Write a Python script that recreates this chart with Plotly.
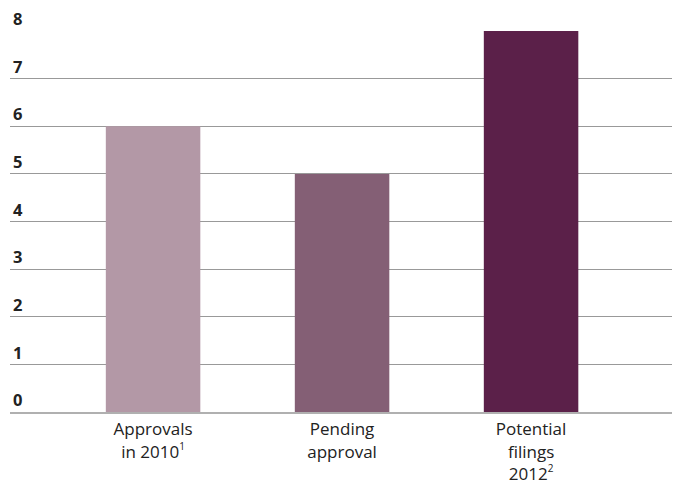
import plotly.graph_objects as go

categories = [
    "Approvals<br>in 2010<sup><span style='font-size:10px'>1</span></sup>",
    "Pending<br>approval",
    "Potential<br>filings<br>2012<sup><span style='font-size:10px'>2</span></sup>",
]
values = [6, 5, 8]
colors = ["#b398a6", "#845f75", "#5b2049"]
y_ticks = [0, 1, 2, 3, 4, 5, 6, 7, 8]

fig = go.Figure(go.Bar(x=categories, y=values, marker=dict(color=colors, line=dict(width=0)), width=0.5))

fig.update_layout(
    width=672, height=474,
    margin=dict(l=2, r=0, t=23, b=70, autoexpand=False),
    paper_bgcolor="white", plot_bgcolor="white",
    showlegend=False,
    font=dict(family="Open Sans", color="#222222"),
)
fig.update_xaxes(
    range=[-0.757, 2.788],
    automargin=False,
    showgrid=False,
    showline=True, linecolor="#b0b0b0", linewidth=2,
    ticks="", ticklabelstandoff=1,
    tickfont=dict(size=17, family="Open Sans", color="#222222"),
)
fig.update_yaxes(
    range=[0, 8],
    automargin=False,
    tickvals=y_ticks,
    ticklabelposition="inside top",
    ticklabeloverflow="allow",
    showgrid=True, gridcolor="#999999", gridwidth=1,
    zeroline=False,
    showline=False,
    ticks="",
    tickfont=dict(size=16.5, family="Open Sans", color="#222222", weight="bold"),
)

fig.write_html("out.html")
